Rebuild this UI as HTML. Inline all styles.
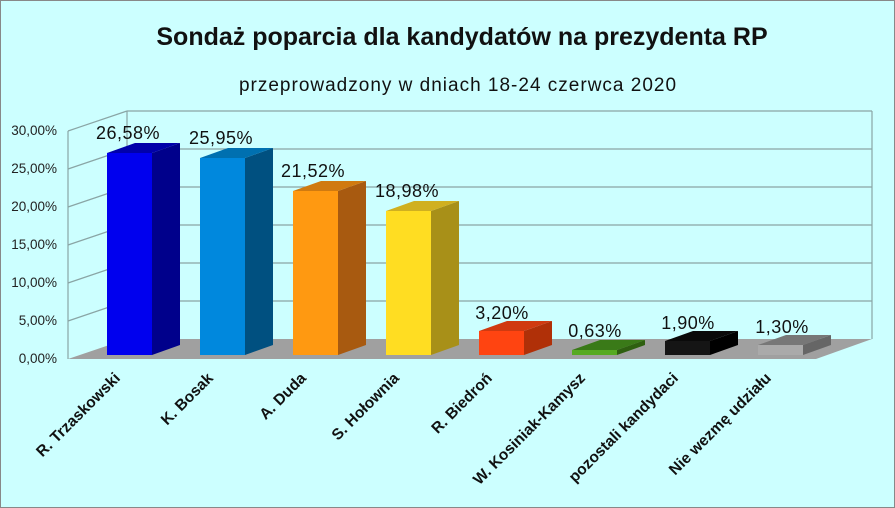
<!DOCTYPE html>
<html><head><meta charset="utf-8"><style>html,body{margin:0;padding:0;background:#ccffff}svg{display:block}</style></head>
<body>
<svg width="895" height="508" viewBox="0 0 895 508" xmlns="http://www.w3.org/2000/svg" font-family="Liberation Sans, DejaVu Sans, sans-serif">
<rect x="0" y="0" width="895" height="508" fill="#ccffff"/>
<rect x="0.5" y="0.5" width="894" height="507" fill="none" stroke="#888" stroke-width="1"/>
<text x="462" y="45" text-anchor="middle" font-size="25" font-weight="bold" fill="#111">Sondaż poparcia dla kandydatów na prezydenta RP</text>
<text x="458" y="91" text-anchor="middle" font-size="19" letter-spacing="1" fill="#111">przeprowadzony w dniach 18-24 czerwca 2020</text>
<g stroke="#8aa5a5" stroke-width="1.2" fill="none">
<line x1="127" y1="111" x2="872" y2="111"/>
<line x1="127" y1="149" x2="872" y2="149"/>
<line x1="127" y1="187" x2="872" y2="187"/>
<line x1="127" y1="225" x2="872" y2="225"/>
<line x1="127" y1="263" x2="872" y2="263"/>
<line x1="127" y1="301" x2="872" y2="301"/>
<line x1="127" y1="111" x2="127" y2="339"/>
<line x1="872" y1="111" x2="872" y2="339"/>
<line x1="68" y1="131" x2="68" y2="359"/>
<line x1="68" y1="131" x2="127" y2="111"/>
<line x1="68" y1="169" x2="127" y2="149"/>
<line x1="68" y1="207" x2="127" y2="187"/>
<line x1="68" y1="245" x2="127" y2="225"/>
<line x1="68" y1="283" x2="127" y2="263"/>
<line x1="68" y1="321" x2="127" y2="301"/>
</g>
<polygon points="68,359 816,359 872,339 127,339" fill="#a0a0a0"/>
<g font-size="13.5" fill="#222" text-anchor="end">
<text x="57" y="135">30,00%</text><text x="57" y="173">25,00%</text><text x="57" y="211">20,00%</text>
<text x="57" y="249">15,00%</text><text x="57" y="287">10,00%</text><text x="57" y="325">5,00%</text><text x="57" y="363">0,00%</text>
</g>
<g>
<polygon points="152,355 180,345 180,143 152,153" fill="#00008b"/>
<polygon points="107,153 135,143 180,143 152,153" fill="#0000aa"/>
<rect x="107" y="153" width="45" height="202" fill="#0000ee"/>
<polygon points="245,355 273,345 273,148 245,158" fill="#005080"/>
<polygon points="200,158 228,148 273,148 245,158" fill="#0070b0"/>
<rect x="200" y="158" width="45" height="197" fill="#0088dd"/>
<polygon points="338,355 366,345 366,181 338,191" fill="#a85a10"/>
<polygon points="293,191 321,181 366,181 338,191" fill="#d07a10"/>
<rect x="293" y="191" width="45" height="164" fill="#ff9911"/>
<polygon points="431,355 459,345 459,201 431,211" fill="#a89018"/>
<polygon points="386,211 414,201 459,201 431,211" fill="#d0b020"/>
<rect x="386" y="211" width="45" height="144" fill="#ffdd22"/>
<polygon points="524,355 552,345 552,321 524,331" fill="#b03008"/>
<polygon points="479,331 507,321 552,321 524,331" fill="#d03a10"/>
<rect x="479" y="331" width="45" height="24" fill="#ff4411"/>
<polygon points="617,355 645,345 645,340 617,350" fill="#2e6010"/>
<polygon points="572,350 600,340 645,340 617,350" fill="#3a7a18"/>
<rect x="572" y="350" width="45" height="5" fill="#55aa22"/>
<polygon points="710,355 738,345 738,331 710,341" fill="#000"/>
<polygon points="665,341 693,331 738,331 710,341" fill="#0a0a0a"/>
<rect x="665" y="341" width="45" height="14" fill="#151515"/>
<polygon points="803,355 831,345 831,335 803,345" fill="#666"/>
<polygon points="758,345 786,335 831,335 803,345" fill="#777"/>
<rect x="758" y="345" width="45" height="10" fill="#aaa"/>
</g>
<g font-size="18" fill="#111" text-anchor="middle" letter-spacing="0.5">
<text x="128" y="139">26,58%</text>
<text x="221" y="144">25,95%</text>
<text x="313" y="177">21,52%</text>
<text x="407" y="197">18,98%</text>
<text x="502" y="319">3,20%</text>
<text x="595" y="337">0,63%</text>
<text x="688" y="329">1,90%</text>
<text x="782" y="333">1,30%</text>
</g>
<g font-size="15.5" font-weight="bold" fill="#111" text-anchor="end">
<text transform="translate(121,379) rotate(-45)">R. Trzaskowski</text>
<text transform="translate(214,379) rotate(-45)">K. Bosak</text>
<text transform="translate(307,379) rotate(-45)">A. Duda</text>
<text transform="translate(400,379) rotate(-45)">S. Hołownia</text>
<text transform="translate(493,379) rotate(-45)">R. Biedroń</text>
<text transform="translate(586,379) rotate(-45)">W. Kosiniak-Kamysz</text>
<text transform="translate(679,379) rotate(-45)">pozostali kandydaci</text>
<text transform="translate(772,379) rotate(-45)">Nie wezmę udziału</text>
</g>
</svg>
</body></html>
